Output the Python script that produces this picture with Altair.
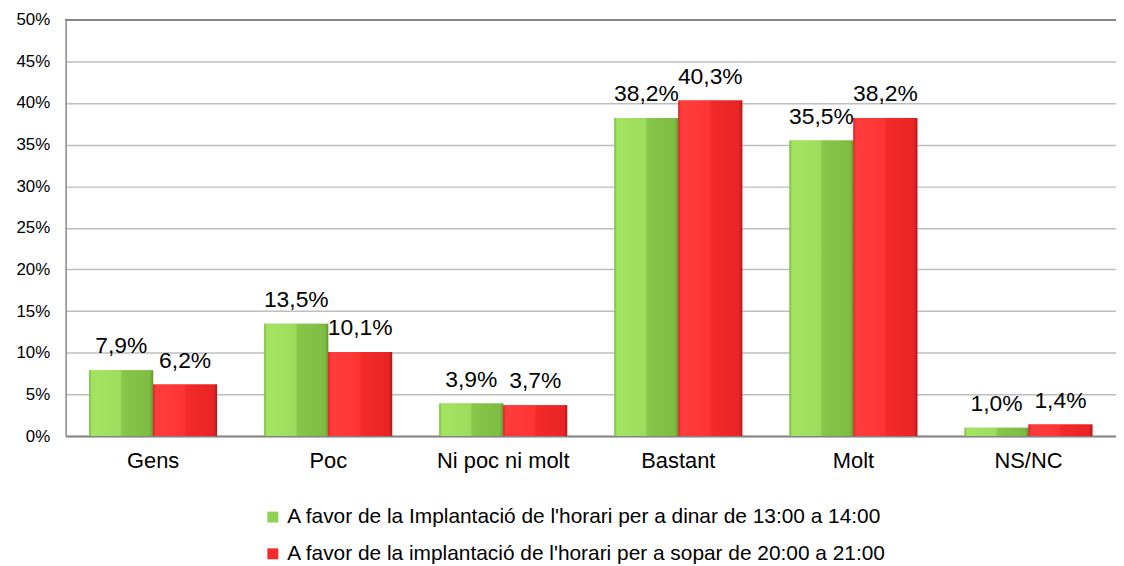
import altair as alt
import pandas as pd

categories = ["Gens", "Poc", "Ni poc ni molt", "Bastant", "Molt", "NS/NC"]
series_names = [
    "A favor de la Implantació de l'horari per a dinar de 13:00 a 14:00",
    "A favor de la implantació de l'horari per a sopar de 20:00 a 21:00",
]
dinar = [7.9, 13.5, 3.9, 38.2, 35.5, 1.0]
sopar = [6.2, 10.1, 3.7, 40.3, 38.2, 1.4]
y_ticks = [0, 5, 10, 15, 20, 25, 30, 35, 40, 45, 50]
y_max = 50

rows = []
for i, c in enumerate(categories):
    rows.append({"cat": c, "series": series_names[0], "v": dinar[i]})
    rows.append({"cat": c, "series": series_names[1], "v": sopar[i]})
df = pd.DataFrame(rows)

green_grad = alt.LinearGradient(
    gradient="linear", x1=0, x2=1, y1=0, y2=0,
    stops=[
        alt.GradientStop(color="#78b840", offset=0),
        alt.GradientStop(color="#a4e462", offset=0.04),
        alt.GradientStop(color="#9edd5b", offset=0.48),
        alt.GradientStop(color="#86c64a", offset=0.52),
        alt.GradientStop(color="#7ebb42", offset=0.95),
        alt.GradientStop(color="#5e962c", offset=1),
    ],
)
red_grad = alt.LinearGradient(
    gradient="linear", x1=0, x2=1, y1=0, y2=0,
    stops=[
        alt.GradientStop(color="#d62222", offset=0),
        alt.GradientStop(color="#ff3d3d", offset=0.04),
        alt.GradientStop(color="#ff3434", offset=0.48),
        alt.GradientStop(color="#f42a2a", offset=0.52),
        alt.GradientStop(color="#e82424", offset=0.95),
        alt.GradientStop(color="#b01818", offset=1),
    ],
)

x_enc = alt.X(
    "cat:N", sort=categories, title=None,
    scale=alt.Scale(paddingInner=0.27, paddingOuter=0.135),
    axis=alt.Axis(labelAngle=0, labelFontSize=22, labelPadding=15, ticks=False,
                  domainColor="#868686", domainWidth=2, labelColor="#000000",
                  labelFont="Liberation Sans"),
)
xo_enc = alt.XOffset("series:N", sort=series_names, scale=alt.Scale(paddingInner=0, paddingOuter=0))
y_enc = alt.Y(
    "v:Q", title=None,
    scale=alt.Scale(domain=[0, y_max], nice=False),
    axis=alt.Axis(values=y_ticks, labelExpr="datum.value + '%'", ticks=False,
                  labelFontSize=17, labelPadding=16, domainColor="#868686",
                  domainWidth=1.5, gridColor="#BEBEBE", gridWidth=1.5,
                  labelColor="#000000", labelFont="Liberation Sans"),
)

base = alt.Chart(df)

bars_legend = base.mark_bar().encode(
    x=x_enc, xOffset=xo_enc, y=y_enc,
    color=alt.Color(
        "series:N", sort=series_names,
        scale=alt.Scale(domain=series_names, range=["#8fd24f", "#f52b2b"]),
        legend=alt.Legend(
            title=None, orient="none", legendX=198, legendY=490,
            direction="vertical", symbolType="square", symbolSize=121,
            labelFontSize=21, labelLimit=1000, rowPadding=15,
            labelFont="Liberation Sans", labelColor="#000000",
            symbolStrokeWidth=0, labelOffset=4,
        ),
    ),
)

bars_grad = base.mark_bar().encode(
    x=x_enc, xOffset=xo_enc, y=y_enc,
    fill=alt.when(alt.datum.series == series_names[0])
    .then(alt.value(green_grad))
    .otherwise(alt.value(red_grad)),
)

top_line = alt.Chart(df).mark_rule(color="#868686", strokeWidth=1.5).encode(
    y=alt.datum(y_max)
)

labels = base.mark_text(
    baseline="alphabetic", dy=-17, fontSize=23, font="Liberation Sans", color="#000000"
).transform_calculate(
    lab="replace(format(datum.v, '.1f'), '.', ',') + '%'"
).encode(
    x=x_enc, xOffset=xo_enc, y=y_enc, text="lab:N",
)

chart = alt.layer(bars_legend, bars_grad, top_line, labels).properties(
    width=1057, height=419,
    autosize=alt.AutoSizeParams(type="none"),
    padding={"left": 58, "top": 10, "right": 0, "bottom": 128},
).configure_view(stroke=None)

chart.save("out.html", embed_options={"renderer": "svg", "actions": False})
